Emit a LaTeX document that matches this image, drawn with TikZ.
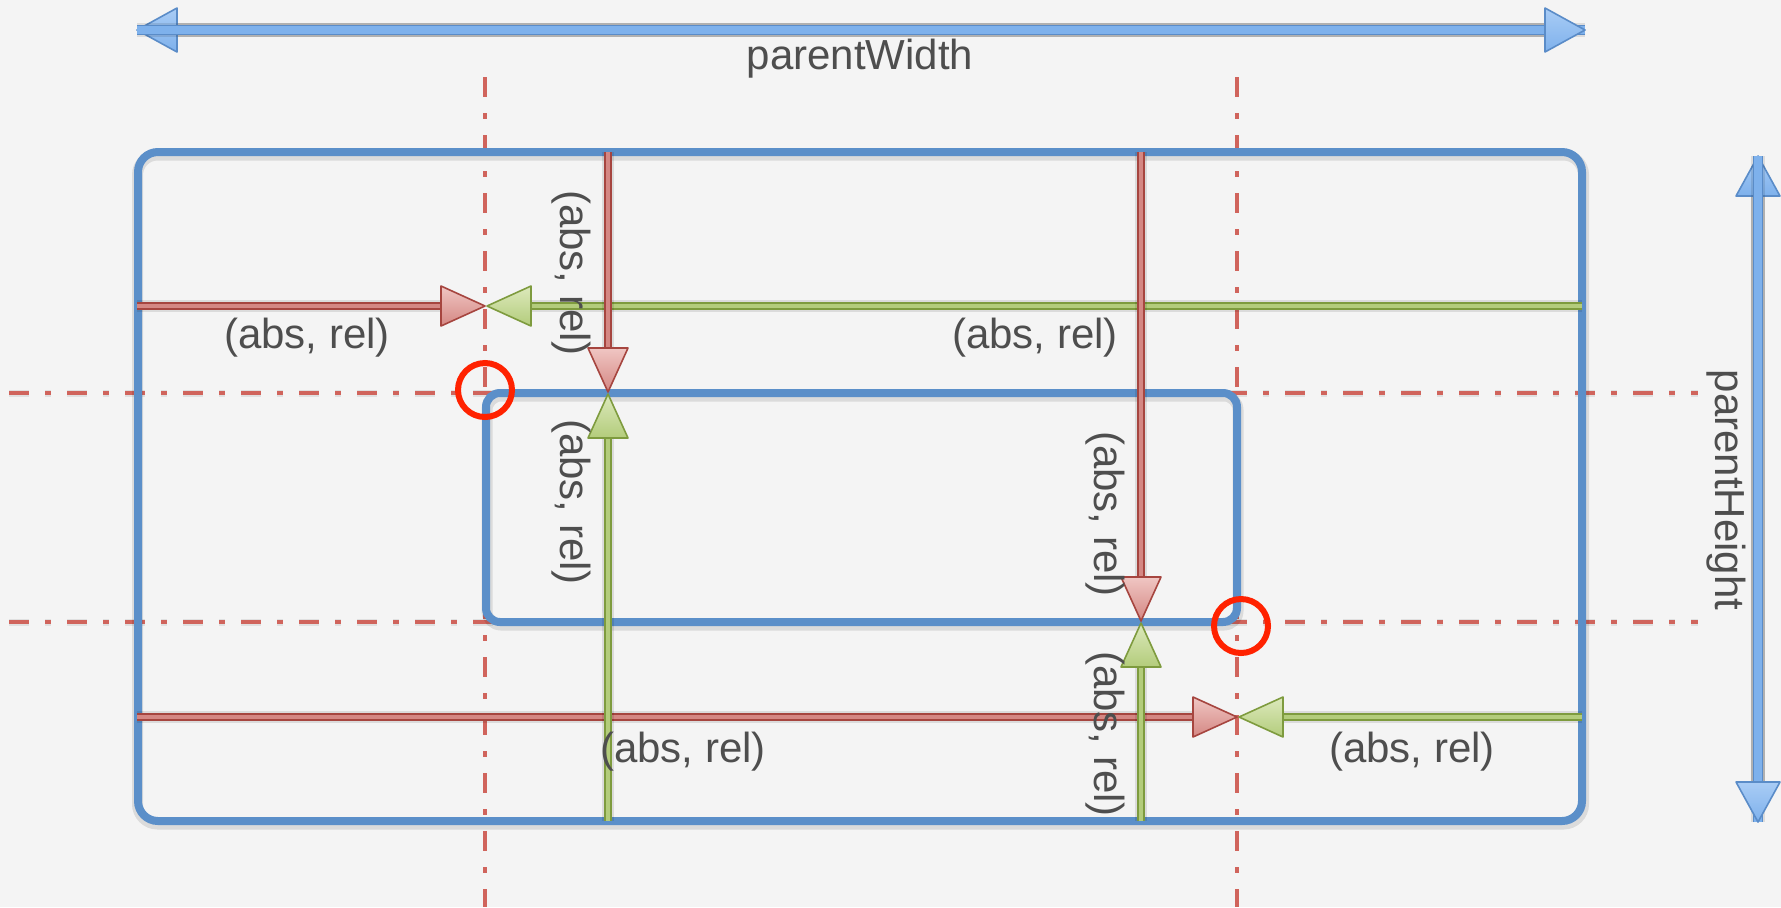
\documentclass[tikz,border=0pt]{standalone}
\usepackage{fontspec}
\setmainfont{Liberation Sans}
\usetikzlibrary{calc}
\definecolor{bg}{HTML}{F4F4F4}
\definecolor{rectblue}{HTML}{5B8FC9}
\definecolor{bline}{HTML}{5A8CC8}
\definecolor{bfill}{HTML}{7EB1EC}
\definecolor{blight}{HTML}{A9CCF5}
\definecolor{rline}{HTML}{A6453F}
\definecolor{rfill}{HTML}{D48783}
\definecolor{rlight}{HTML}{F0C6C3}
\definecolor{gline}{HTML}{7E9B3E}
\definecolor{gfill}{HTML}{B3CC7B}
\definecolor{glight}{HTML}{DCE9BC}
\definecolor{guidered}{HTML}{D0645C}
\definecolor{circred}{HTML}{FF2200}
\definecolor{txt}{HTML}{4E4E4E}
% #1 from, #2 to, #3 head length, #4 head half width, #5 outer shaft width, #6 inner shaft width, #7 colour prefix
\newcommand{\fatarrow}[7]{%
  \coordinate (fbase) at ($(#2)!#3!(#1)$);
  \draw[black, opacity=0.10, line width=#5+2pt, shift={(0.6pt,-1.6pt)}] (#1) -- (fbase);
  \path[fill=black, opacity=0.10, shift={(0.6pt,-1.6pt)}]
    (#2) -- ($(fbase)!#4!90:(#2)$) -- ($(fbase)!#4!-90:(#2)$) -- cycle;
  \draw[#7line, line width=#5] (#1) -- (fbase);
  \draw[#7fill, line width=#6] (#1) -- (fbase);
  \path[draw=#7line, line width=0.8pt, line join=round, top color=#7light, bottom color=#7fill]
    (#2) -- ($(fbase)!#4!90:(#2)$) -- ($(fbase)!#4!-90:(#2)$) -- cycle;
}
\begin{document}
\begin{tikzpicture}[x=0.5pt,y=-0.5pt,
  lbl/.style={text=txt, font=\fontsize{21}{25}\selectfont, inner sep=0pt},
  rectbox/.style={draw=rectblue, line width=4pt, inner sep=0pt, outer sep=0pt},
  rectshadow/.style={draw=black, draw opacity=0.10, line width=5.5pt, inner sep=0pt, outer sep=0pt},
  guide/.style={guidered, line width=2.3pt, dash pattern=on 10pt off 8pt on 3pt off 8pt},
  mark ring/.style={circle, draw=circred, line width=3pt, minimum size=27pt, inner sep=0pt}]
\useasboundingbox (0,0) rectangle (1781,907);
\fill[bg] (0,0) rectangle (1781,907);

% guide lines
\coordinate (v1a) at (485,77);  \coordinate (v1b) at (485,907);
\coordinate (v2a) at (1237,77); \coordinate (v2b) at (1237,907);
\coordinate (h1a) at (9,393);   \coordinate (h1b) at (1698,393);
\coordinate (h2a) at (9,622);   \coordinate (h2b) at (1698,622);
\draw[guide, black, opacity=0.08, line width=3.5pt, shift={(0.5pt,-1.5pt)}] (h1a) -- (h1b);
\draw[guide, black, opacity=0.08, line width=3.5pt, shift={(0.5pt,-1.5pt)}] (h2a) -- (h2b);
\draw[guide] (v1a) -- (v1b);
\draw[guide] (v2a) -- (v2b);
\draw[guide] (h1a) -- (h1b);
\draw[guide] (h2a) -- (h2b);

% rectangles
\node[rectshadow, minimum width=723pt, minimum height=334.5pt, rounded corners=10pt] (outersh) at (860.5,489.5) {};
\node[rectshadow, minimum width=375.5pt, minimum height=114.5pt, rounded corners=7pt] (innersh) at (862.5,510.5) {};
\node[rectbox, minimum width=722pt, minimum height=334.5pt, rounded corners=10pt] (outer) at (860,486.5) {};
\node[rectbox, minimum width=375.5pt, minimum height=114.5pt, rounded corners=7pt] (inner) at (861.5,507.5) {};

% dimension arrows (blue)
\coordinate (pwl) at (137,30); \coordinate (pwr) at (1585,30);
\coordinate (pht) at (1758,156); \coordinate (phb) at (1758,822);
\coordinate (pwlb) at ($(pwl)!20pt!(pwr)$); \coordinate (pwrb) at ($(pwr)!20pt!(pwl)$);
\coordinate (phtb) at ($(pht)!20pt!(phb)$); \coordinate (phbb) at ($(phb)!20pt!(pht)$);
\draw[black, opacity=0.10, line width=7pt, shift={(0.6pt,-1.6pt)}] (pwlb) -- (pwrb);
\draw[black, opacity=0.10, line width=7pt, shift={(0.6pt,-1.6pt)}] (phtb) -- (phbb);
\draw[bline, line width=5.2pt] (pwlb) -- (pwrb);
\draw[bfill, line width=3.6pt] (pwlb) -- (pwrb);
\draw[bline, line width=5.2pt] (phtb) -- (phbb);
\draw[bfill, line width=3.6pt] (phtb) -- (phbb);
\fatarrow{pwr}{pwl}{20pt}{11pt}{5.2pt}{3.6pt}{b}
\fatarrow{pwl}{pwr}{20pt}{11pt}{5.2pt}{3.6pt}{b}
\fatarrow{phb}{pht}{20pt}{11pt}{5.2pt}{3.6pt}{b}
\fatarrow{pht}{phb}{20pt}{11pt}{5.2pt}{3.6pt}{b}

% horizontal arrows
\coordinate (r1s) at (137,306);  \coordinate (r1t) at (485,306);
\coordinate (g1s) at (1582,306); \coordinate (g1t) at (487,306);
\coordinate (r2s) at (137,717);  \coordinate (r2t) at (1237,717);
\coordinate (g2s) at (1582,717); \coordinate (g2t) at (1239,717);
% vertical arrows
\coordinate (c1rs) at (608,152);  \coordinate (c1rt) at (608,392);
\coordinate (c1gs) at (608,821);  \coordinate (c1gt) at (608,394);
\coordinate (c2rs) at (1141,152); \coordinate (c2rt) at (1141,621);
\coordinate (c2gs) at (1141,821); \coordinate (c2gt) at (1141,623);

\fatarrow{g1s}{g1t}{22pt}{10pt}{3.6pt}{2.1pt}{g}
\fatarrow{r1s}{r1t}{22pt}{10pt}{3.6pt}{2.1pt}{r}
\fatarrow{g2s}{g2t}{22pt}{10pt}{3.6pt}{2.1pt}{g}
\fatarrow{r2s}{r2t}{22pt}{10pt}{3.6pt}{2.1pt}{r}
\fatarrow{c1gs}{c1gt}{22pt}{10pt}{3.6pt}{2.1pt}{g}
\fatarrow{c1rs}{c1rt}{22pt}{10pt}{3.6pt}{2.1pt}{r}
\fatarrow{c2gs}{c2gt}{22pt}{10pt}{3.6pt}{2.1pt}{g}
\fatarrow{c2rs}{c2rt}{22pt}{10pt}{3.6pt}{2.1pt}{r}

% labels
\node[lbl] (pw) at (860,59) {parentWidth};
\node[lbl, rotate=-90] (ph) at (1726,490) {parentHeight};
\node[lbl] (l1) at (307,338) {(abs, rel)};
\node[lbl] (l2) at (1035,338) {(abs, rel)};
\node[lbl] (l3) at (683,752) {(abs, rel)};
\node[lbl] (l4) at (1412,752) {(abs, rel)};
\node[lbl, rotate=-90] (l5) at (571,273) {(abs, rel)};
\node[lbl, rotate=-90] (l6) at (571,502) {(abs, rel)};
\node[lbl, rotate=-90] (l7) at (1105,514) {(abs, rel)};
\node[lbl, rotate=-90] (l8) at (1105,734) {(abs, rel)};

% red rings
\node[mark ring] (m1) at (485,390) {};
\node[mark ring] (m2) at (1241,626) {};
\end{tikzpicture}
\end{document}
